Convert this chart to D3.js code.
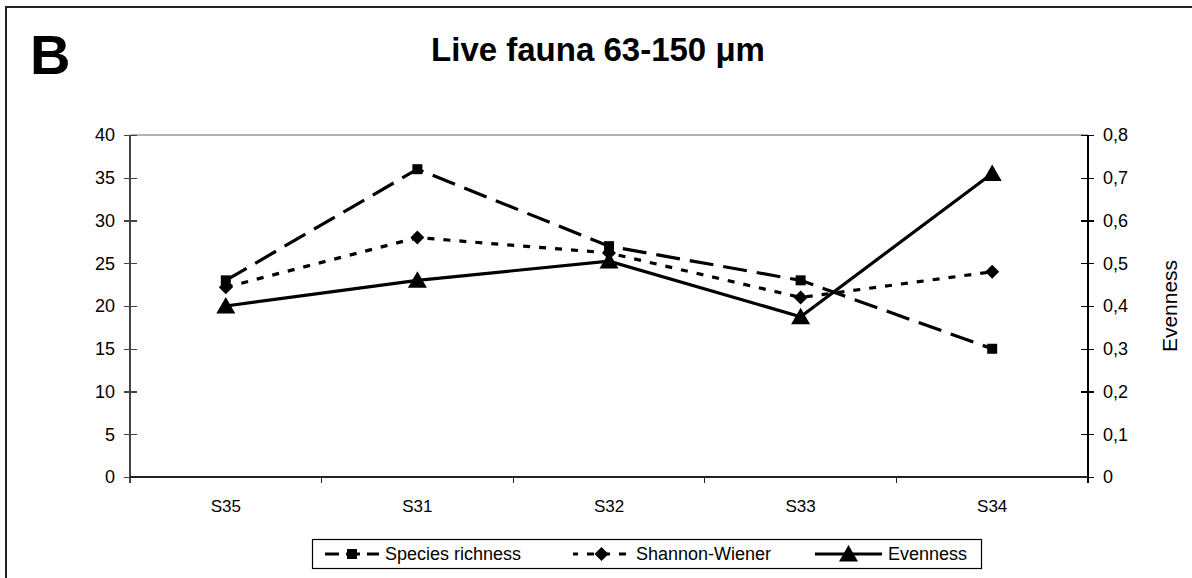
<!DOCTYPE html>
<meta charset="utf-8">
<style>
body { margin: 0; background: #fff; }
text { font-family: "Liberation Sans", Arial, sans-serif; fill: #000; }
.axis path, .axis line { fill: none; shape-rendering: crispEdges; }
</style>
<body>
<script src="https://cdn.jsdelivr.net/npm/d3@7"></script>
<script>

var stations = ["S35", "S31", "S32", "S33", "S34"];
var richness = [23, 36, 27, 23, 15];          // left axis
var shannon = [22.2, 28, 26.2, 21, 24];        // drawn against left axis
var evenness = [0.40, 0.46, 0.505, 0.375, 0.71]; // right axis
var leftTicks = [0, 5, 10, 15, 20, 25, 30, 35, 40];
var rightTicks = [0, 0.1, 0.2, 0.3, 0.4, 0.5, 0.6, 0.7, 0.8];

var W = 1192, H = 578;
var plot = {left: 130, right: 1088, top: 135, bottom: 477};

var svg = d3.select("body").append("svg")
    .attr("width", W)
    .attr("height", H);

// outer frame (only top and left visible)
svg.append("path")
    .attr("d", "M6," + H + "V7H" + W)
    .attr("fill", "none")
    .attr("stroke", "#222")
    .attr("stroke-width", 2);

svg.append("text")
    .attr("x", 30).attr("y", 74)
    .style("font-size", "56px").style("font-weight", "bold")
    .text("B");

svg.append("text")
    .attr("x", 598).attr("y", 61)
    .attr("text-anchor", "middle")
    .style("font-size", "33px").style("font-weight", "bold")
    .text("Live fauna 63-150 \u03bcm");

var x = d3.scaleBand()
    .domain(stations)
    .range([plot.left, plot.right]);

var yL = d3.scaleLinear().domain([0, 40]).range([plot.bottom, plot.top]);
var yR = d3.scaleLinear().domain([0, 0.8]).range([plot.bottom, plot.top]);

// top border of the plot area
svg.append("line")
    .attr("x1", plot.left).attr("x2", plot.right)
    .attr("y1", plot.top).attr("y2", plot.top)
    .attr("stroke", "#999").attr("stroke-width", 1.5);

var comma = function(d) { return d === 0 ? "0" : d3.format(".1f")(d).replace(".", ","); };

var gL = svg.append("g")
    .attr("class", "axis")
    .attr("transform", "translate(" + plot.left + ",0)")
    .call(d3.axisLeft(yL).tickValues(leftTicks).tickSize(6).tickPadding(9));
gL.selectAll(".tick line").attr("x2", -6).attr("x1", 7).attr("stroke", "#444").attr("stroke-width", 1.3);
gL.select(".domain").attr("d", "M0," + plot.top + "V" + (plot.bottom + 6)).attr("stroke", "#444").attr("stroke-width", 2);
gL.selectAll("text").style("font-size", "18px").style("font-family", "Liberation Sans, Arial, sans-serif");

var gR = svg.append("g")
    .attr("class", "axis")
    .attr("transform", "translate(" + plot.right + ",0)")
    .call(d3.axisRight(yR).tickValues(rightTicks).tickFormat(comma).tickSize(6).tickPadding(9));
gR.selectAll(".tick line").attr("x1", -7).attr("x2", 6).attr("stroke", "#000").attr("stroke-width", 1.3);
gR.select(".domain").attr("d", "M0," + plot.top + "V" + (plot.bottom + 6)).attr("stroke", "#000").attr("stroke-width", 1.5);
gR.selectAll("text").style("font-size", "18px").style("font-family", "Liberation Sans, Arial, sans-serif");

var gX = svg.append("g")
    .attr("class", "axis")
    .attr("transform", "translate(0," + plot.bottom + ")")
    .call(d3.axisBottom(x).tickSize(0).tickPadding(23));
gX.select(".domain").attr("d", "M" + plot.left + ",0H" + plot.right).attr("stroke", "#222").attr("stroke-width", 2);
gX.selectAll("text").style("font-size", "17px").style("font-family", "Liberation Sans, Arial, sans-serif");
// boundary ticks between categories
gX.selectAll(".bound")
    .data(stations.slice(1))
    .enter().append("line")
    .attr("x1", function(d) { return x(d); }).attr("x2", function(d) { return x(d); })
    .attr("y1", 0).attr("y2", 6)
    .attr("stroke", "#222").attr("stroke-width", 1.3);

svg.append("text")
    .attr("transform", "translate(1177," + ((plot.top + plot.bottom) / 2) + ") rotate(-90)")
    .attr("text-anchor", "middle")
    .style("font-size", "21px")
    .text("Evenness");

var cx = function(d, i) { return x(stations[i]) + x.bandwidth() / 2; };

var series = [
  {name: "Species richness", values: richness, y: yL, dash: "24,10", marker: "square"},
  {name: "Shannon-Wiener", values: shannon, y: yL, dash: "7,9", marker: "diamond"},
  {name: "Evenness", values: evenness, y: yR, dash: null, marker: "triangle"}
];

var markerPath = {
  square: "M-5,-5H5V5H-5Z",
  diamond: "M0,-7L7,0L0,7L-7,0Z",
  triangle: "M0,-9L9.5,7.5H-9.5Z"
};

series.forEach(function(s) {
  var line = d3.line()
      .x(cx)
      .y(function(d) { return s.y(d); });
  svg.append("path")
      .datum(s.values)
      .attr("d", line)
      .attr("fill", "none")
      .attr("stroke", "#000")
      .attr("stroke-width", 3.2)
      .attr("stroke-dasharray", s.dash);
  svg.selectAll(null)
      .data(s.values)
      .enter().append("path")
      .attr("d", markerPath[s.marker])
      .attr("transform", function(d, i) { return "translate(" + cx(d, i) + "," + s.y(d) + ")"; })
      .attr("fill", "#000");
});

// legend
var legend = svg.append("g");
legend.append("rect")
    .attr("x", 312.5).attr("y", 539.5)
    .attr("width", 669).attr("height", 29)
    .attr("fill", "#fff").attr("stroke", "#000").attr("stroke-width", 1.2);

var legendX = [325, 573, 815];
var legendLen = [54, 57, 67];
series.forEach(function(s, i) {
  var g = legend.append("g").attr("transform", "translate(" + legendX[i] + ",554)");
  g.append("line")
      .attr("x1", 0).attr("x2", legendLen[i])
      .attr("stroke", "#000").attr("stroke-width", 3.2)
      .attr("stroke-dasharray", s.dash ? (i === 0 ? "14,7" : "7,9") : null)
      .attr("stroke-dashoffset", i === 1 ? 2 : 0);
  g.append("path")
      .attr("d", markerPath[s.marker])
      .attr("transform", "translate(" + (legendLen[i] / 2) + ",0)")
      .attr("fill", "#000");
  g.append("text")
      .attr("x", legendLen[i] + 6).attr("y", 6)
      .style("font-size", "18px")
      .text(s.name);
});

</script>
